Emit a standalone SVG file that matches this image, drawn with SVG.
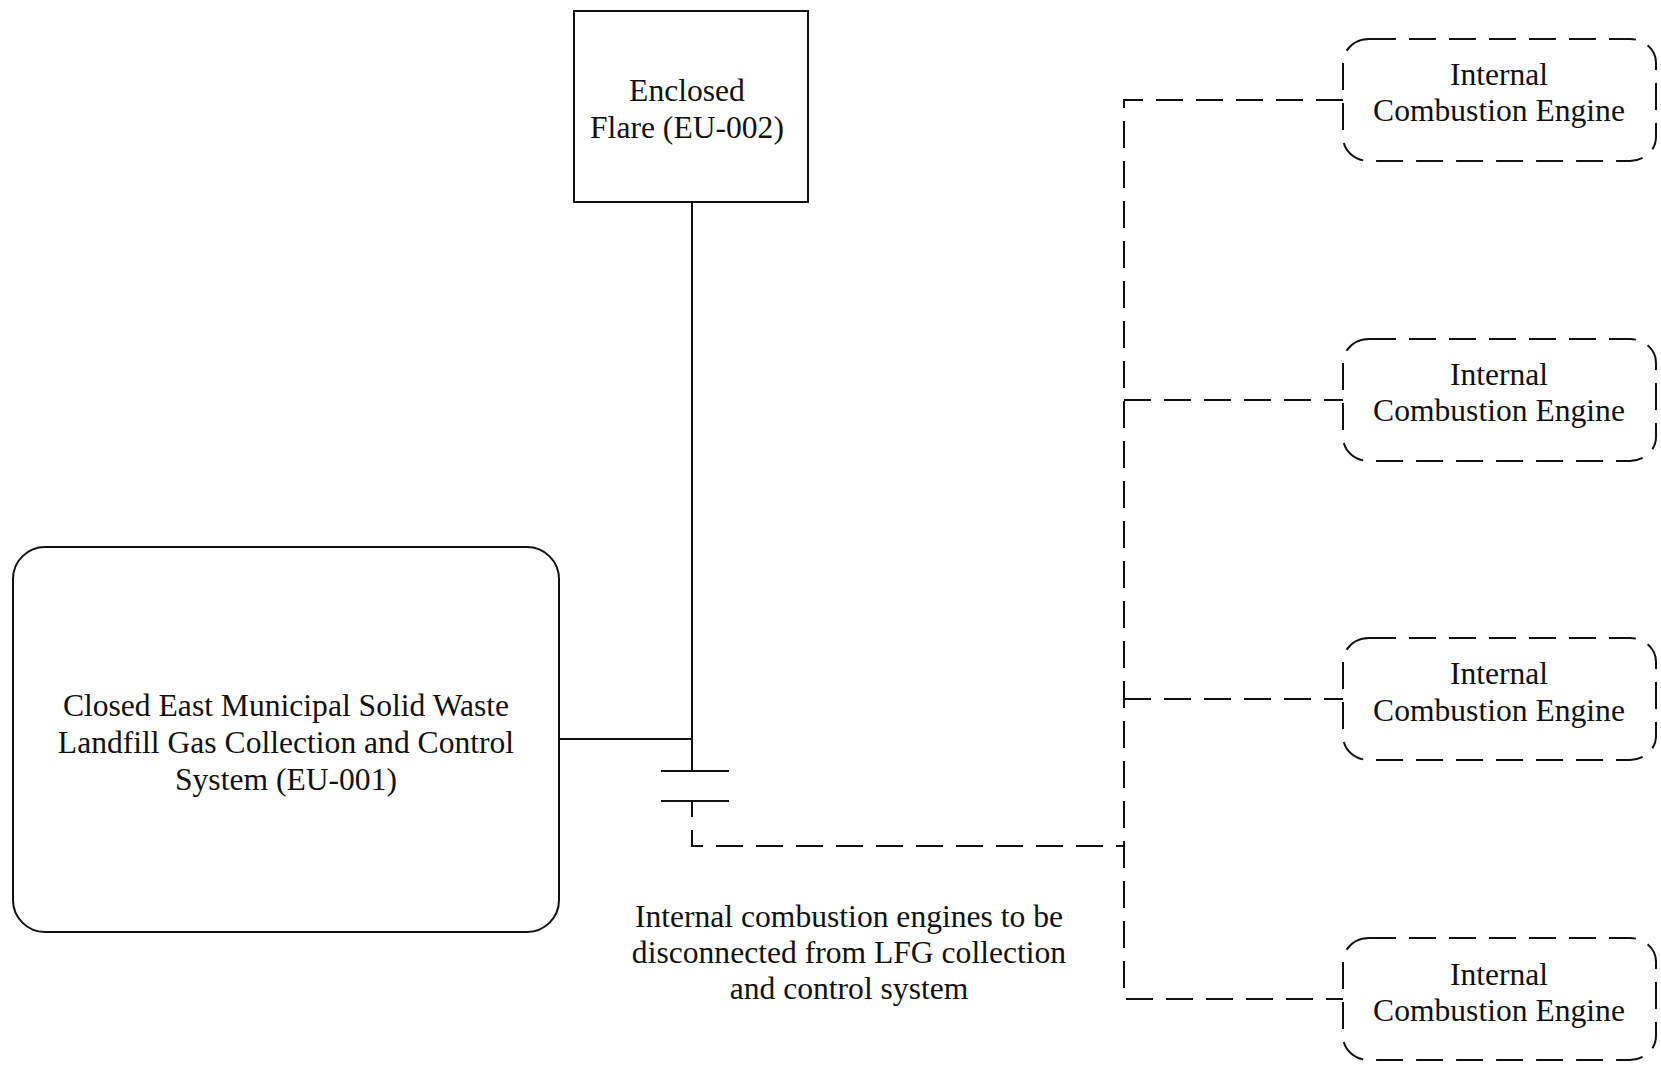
<svg xmlns="http://www.w3.org/2000/svg" width="1661" height="1067" viewBox="0 0 1661 1067">
<style>
  .solid{fill:none;stroke:#111;stroke-width:2}
  .dash{fill:none;stroke:#111;stroke-width:2;stroke-dasharray:27 13}
  .box{fill:#fff;stroke:#111;stroke-width:2}
  .dbox{fill:#fff;stroke:#111;stroke-width:2;stroke-dasharray:27 13}
  text{font-family:"Liberation Serif","Times New Roman",serif;font-size:31.6px;fill:#111;text-anchor:middle}
</style>
<rect width="1661" height="1067" fill="#fff"/>
<g id="connectors">
  <path class="solid" d="M692,202 V771"/>
  <path class="solid" d="M559,739 H692"/>
  <path class="solid" d="M661,771 H729"/>
  <path class="solid" d="M661,801 H729"/>
  <path class="dash" style="stroke-dashoffset:11" d="M692,801 V846 H1124"/>
  <path class="dash" d="M1343,100 H1124 V999 H1343"/>
  <path class="dash" d="M1124,400 H1343"/>
  <path class="dash" d="M1124,699 H1343"/>
</g>
<g id="flare">
  <rect class="box" x="574" y="11" width="234" height="191"/>
  <text x="687" y="101">Enclosed</text>
  <text x="687" y="138">Flare (EU-002)</text>
</g>
<g id="landfill">
  <rect class="box" x="13" y="547" width="546" height="385" rx="32" ry="32"/>
  <text x="286" y="716">Closed East Municipal Solid Waste</text>
  <text x="286" y="753">Landfill Gas Collection and Control</text>
  <text x="286" y="790">System (EU-001)</text>
</g>
<g id="engine1">
  <rect class="dbox" x="1343" y="39" width="313" height="122" rx="26" ry="24"/>
  <text x="1499" y="85">Internal</text>
  <text x="1499" y="121">Combustion Engine</text>
</g>
<g id="engine2">
  <rect class="dbox" x="1343" y="339" width="313" height="122" rx="26" ry="24"/>
  <text x="1499" y="385">Internal</text>
  <text x="1499" y="421">Combustion Engine</text>
</g>
<g id="engine3">
  <rect class="dbox" x="1343" y="638" width="313" height="122" rx="26" ry="24"/>
  <text x="1499" y="684">Internal</text>
  <text x="1499" y="721">Combustion Engine</text>
</g>
<g id="engine4">
  <rect class="dbox" x="1343" y="938" width="313" height="122" rx="26" ry="24"/>
  <text x="1499" y="985">Internal</text>
  <text x="1499" y="1021">Combustion Engine</text>
</g>
<g id="note">
  <text x="849" y="927">Internal combustion engines to be</text>
  <text x="849" y="963">disconnected from LFG collection</text>
  <text x="849" y="999">and control system</text>
</g>
</svg>
